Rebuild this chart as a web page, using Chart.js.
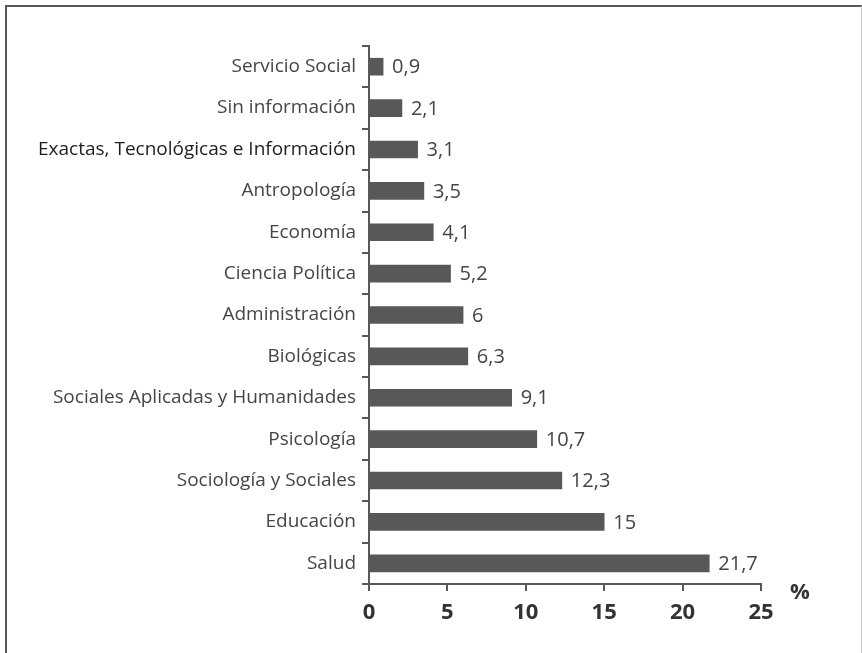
<!DOCTYPE html>
<html>
<head>
<meta charset="utf-8">
<script src="https://cdn.jsdelivr.net/npm/chart.js@4/dist/chart.umd.min.js"></script>
<style>
  html, body { margin: 0; padding: 0; background: #fff; }
  #wrap { position: relative; width: 862px; height: 653px; overflow: hidden; }
  #c { position: absolute; left: 0; top: 0; }
  #frame { position: absolute; left: 5px; top: 5px; width: 857px; height: 700px; box-sizing: border-box;
           border-top: 2px solid #58585a; border-left: 2px solid #58585a; border-right: 1px solid #d0d0d0; pointer-events: none; }
</style>
</head>
<body>
<div id="wrap">
  <canvas id="c" width="862" height="653"></canvas>
  <div id="frame"></div>
</div>
<script>
const categories = [
  'Servicio Social',
  'Sin información',
  'Exactas, Tecnológicas e Información',
  'Antropología',
  'Economía',
  'Ciencia Política',
  'Administración',
  'Biológicas',
  'Sociales Aplicadas y Humanidades',
  'Psicología',
  'Sociología y Sociales',
  'Educación',
  'Salud'
];
const values = [0.9, 2.1, 3.1, 3.5, 4.1, 5.2, 6, 6.3, 9.1, 10.7, 12.3, 15, 21.7];
const xTicks = [0, 5, 10, 15, 20, 25];
const unitLabel = '%';

const FONT = '"Open Sans", "DejaVu Sans", sans-serif';
const DARK = '#58585a';
const TEXT = '#454545';

const valueLabels = {
  id: 'valueLabels',
  afterDatasetsDraw(chart) {
    const ctx = chart.ctx;
    const meta = chart.getDatasetMeta(0);
    ctx.save();
    ctx.font = '20px ' + FONT;
    ctx.fillStyle = TEXT;
    ctx.textBaseline = 'middle';
    ctx.textAlign = 'left';
    meta.data.forEach((el, i) => {
      ctx.fillText(String(values[i]).replace('.', ','), el.x + 9, el.y + 1);
    });
    const xs = chart.scales.x;
    ctx.font = 'bold 22px ' + FONT;
    ctx.textAlign = 'center';
    ctx.fillStyle = '#333';
    ctx.fillText(unitLabel, xs.right + 39, xs.top + 9);
    ctx.restore();
  }
};

new Chart(document.getElementById('c'), {
  type: 'bar',
  data: {
    labels: categories,
    datasets: [{
      data: values,
      backgroundColor: DARK,
      barThickness: 17,
      borderWidth: 0
    }]
  },
  options: {
    indexAxis: 'y',
    responsive: false,
    animation: false,
    layout: { padding: { top: 46, right: 101, left: 0, bottom: 0 } },
    plugins: { legend: { display: false }, tooltip: { enabled: false } },
    scales: {
      x: {
        min: 0, max: 25,
        afterBuildTicks(scale) { scale.ticks = xTicks.map(v => ({ value: v })); },
        afterFit(scale) { scale.height = 69; },
        ticks: { font: { family: FONT, size: 22, weight: 'bold' }, color: '#333', padding: 9 },
        grid: { drawOnChartArea: false, tickLength: 7, color: DARK, lineWidth: 2 },
        border: { color: DARK, width: 2 }
      },
      y: {
        afterFit(scale) { scale.width = 369; },
        ticks: {
          font: { family: FONT, size: 19 },
          color: (c) => (c.index === 2 ? '#1e1e1e' : TEXT),
          padding: 6
        },
        grid: { offset: true, drawOnChartArea: false, tickLength: 7, color: DARK, lineWidth: 2 },
        border: { color: DARK, width: 2 }
      }
    }
  },
  plugins: [valueLabels]
});
</script>
</body>
</html>
